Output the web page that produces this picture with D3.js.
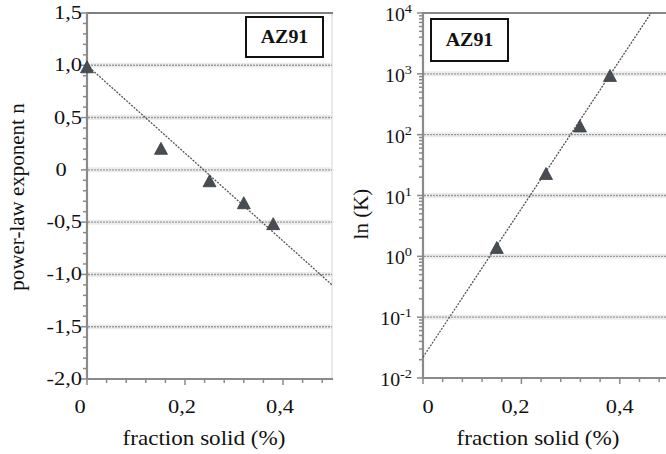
<!DOCTYPE html>
<html><head><meta charset="utf-8">
<script src="https://cdn.jsdelivr.net/npm/d3@7"></script>
<style>
body{margin:0;background:#fff;}
svg text{font-family:'Liberation Serif','Tinos','Times New Roman','DejaVu Serif',serif;}
</style></head>
<body>
<script>
// ---- data ----
const leftX = [0.0, 0.151, 0.25, 0.32, 0.38];
const leftN = [0.98, 0.20, -0.11, -0.32, -0.52];
const leftFitX = [0.0, 0.5];
const leftFitN = [1.0, -1.10];
const leftTicksY = [1.5, 1.0, 0.5, 0, -0.5, -1.0, -1.5, -2.0];
const leftTickLabelsY = ["1,5", "1,0", "0,5", "0", "-0,5", "-1,0", "-1,5", "-2,0"];
const xTicks = [0, 0.2, 0.4];
const xTickLabels = ["0", "0,2", "0,4"];

const rightX = [0.15, 0.25, 0.319, 0.38];
const rightK = [1.37, 22.5, 136, 920];
const rightFitX = [0.0, 0.4635];
const rightFitK = [0.022, 10000];
const rightExp = [4, 3, 2, 1, 0, -1, -2];

const titleText = "AZ91";
const xTitle = "fraction solid (%)";
const leftYTitle = "power-law exponent n";
const rightYTitle = "ln (K)";

// ---- layout ----
const W = 666, H = 454;
const svg = d3.select("body").append("svg").attr("width", W).attr("height", H);

const axisCol = "#8a8a8a";
const markCol = "#474d52";
const SX = 1.12; // horizontal stretch of the original raster

function htext(g, x, y, str, size, anchor, sx) {
  return g.append("text").attr("transform", `translate(${x},${y}) scale(${sx || SX},1)`)
    .attr("text-anchor", anchor).attr("font-size", size).attr("fill", "#111").text(str);
}
function gridLine(g, y, x0, x1) {
  g.append("line").attr("x1", x0).attr("x2", x1).attr("y1", y).attr("y2", y)
    .attr("stroke", "#ececec").attr("stroke-width", 5);
  g.append("line").attr("x1", x0).attr("x2", x1).attr("y1", y).attr("y2", y)
    .attr("stroke", "#9a9a9a").attr("stroke-width", 1.4).attr("stroke-dasharray", "2,1");
}
function tri(g, cx, cy) {
  const w = 13, h = 12;
  g.append("path")
    .attr("d", `M${cx},${cy - h * 0.55}L${cx + w / 2},${cy + h * 0.45}L${cx - w / 2},${cy + h * 0.45}Z`)
    .attr("fill", markCol).attr("stroke", "#3a3f43").attr("stroke-width", 0.8);
}
function xAxisTicks(g, x, y0) {
  d3.range(0, 13).forEach(k => {
    const v = k * 0.04;
    g.append("line").attr("x1", x(v)).attr("x2", x(v)).attr("y1", y0).attr("y2", y0 + (k % 5 === 0 ? 5 : 3))
      .attr("stroke", axisCol).attr("stroke-width", 1.5);
  });
}

// ===== LEFT PANEL =====
const L = svg.append("g");
const xL = d3.scaleLinear().domain([0, 0.5]).range([87, 332]);
const yL = d3.scaleLinear().domain([-2, 1.5]).range([379, 13]);

L.append("line").attr("x1", 332).attr("x2", 332).attr("y1", 13).attr("y2", 379).attr("stroke", "#e2e2e2").attr("stroke-width", 1.5);
leftTicksY.filter(v => v < 1.5 && v > -2).forEach(v => gridLine(L, yL(v), 88, 332));
L.append("line").attr("x1", 87).attr("x2", 333).attr("y1", yL(1.5)).attr("y2", yL(1.5)).attr("stroke", "#555").attr("stroke-width", 1.6);
d3.range(0, 36).forEach(k => {
  const v = -2 + k * 0.1;
  const major = k % 5 === 0;
  L.append("line").attr("x1", 87 - (major ? 6 : 4)).attr("x2", 87).attr("y1", yL(v)).attr("y2", yL(v))
    .attr("stroke", axisCol).attr("stroke-width", 1.5);
});
L.append("line").attr("x1", 87).attr("x2", 87).attr("y1", 12).attr("y2", 380).attr("stroke", axisCol).attr("stroke-width", 2.2);
L.append("line").attr("x1", 86).attr("x2", 333).attr("y1", 379).attr("y2", 379).attr("stroke", axisCol).attr("stroke-width", 2.2);
xAxisTicks(L, xL, 380);
leftTicksY.forEach((v, i) => {
  const isZero = leftTickLabelsY[i] === "0";
  htext(L, isZero ? 61 : 82, yL(v) + 6, leftTickLabelsY[i], 19, isZero ? "middle" : "end", 1.18);
});
xTicks.forEach((v, i) => {
  htext(L, xL(v) + (i === 0 ? -7 : -3), 413, xTickLabels[i], 19, "middle", 1.18);
});
L.append("path").datum(leftFitX.map((v, i) => [v, leftFitN[i]]))
  .attr("d", d3.line().x(d => xL(d[0])).y(d => yL(d[1])))
  .attr("stroke", "#555").attr("stroke-width", 1.3).attr("stroke-dasharray", "2,1.3").attr("fill", "none");
leftX.forEach((v, i) => tri(L, xL(v), yL(leftN[i])));
L.append("rect").attr("x", 246).attr("y", 17).attr("width", 77).attr("height", 40)
  .attr("fill", "#fff").attr("stroke", "#111").attr("stroke-width", 2);
htext(L, 284.5, 43, titleText, 19, "middle", 1.05).attr("font-weight", "bold");
L.append("text").attr("transform", "translate(24,197) rotate(-90)").attr("text-anchor", "middle")
  .attr("font-size", 21).attr("fill", "#111").text(leftYTitle);
htext(L, 204, 445, xTitle, 21, "middle", 1.1);

// ===== RIGHT PANEL =====
const R = svg.append("g");
const xR = d3.scaleLinear().domain([0, 0.5]).range([423, 669]);
const yR = d3.scaleLog().domain([0.01, 10000]).range([378, 13]);

rightExp.filter(e => e < 4 && e > -2).forEach(e => gridLine(R, yR(Math.pow(10, e)), 424, 666));
R.append("line").attr("x1", 423).attr("x2", 666).attr("y1", 13).attr("y2", 13).attr("stroke", "#888").attr("stroke-width", 2);
for (let e = -2; e < 4; e++) {
  for (let m = 1; m <= 9; m++) {
    const v = m * Math.pow(10, e);
    R.append("line").attr("x1", 423 - (m === 1 ? 6 : 4)).attr("x2", 423).attr("y1", yR(v)).attr("y2", yR(v))
      .attr("stroke", axisCol).attr("stroke-width", 1.5);
  }
}
R.append("line").attr("x1", 417).attr("x2", 423).attr("y1", yR(10000)).attr("y2", yR(10000)).attr("stroke", axisCol).attr("stroke-width", 1.5);
R.append("line").attr("x1", 423).attr("x2", 423).attr("y1", 12).attr("y2", 379).attr("stroke", axisCol).attr("stroke-width", 2.2);
R.append("line").attr("x1", 422).attr("x2", 666).attr("y1", 378).attr("y2", 378).attr("stroke", axisCol).attr("stroke-width", 2.2);
xAxisTicks(R, xR, 379);
rightExp.forEach(e => {
  const t = R.append("text").attr("transform", `translate(412,${yR(Math.pow(10, e)) + 8}) scale(1.1,1)`)
    .attr("text-anchor", "end").attr("font-size", 18).attr("fill", "#111");
  t.append("tspan").text("10");
  t.append("tspan").attr("dy", -8).attr("font-size", 13).text(String(e));
});
xTicks.forEach((v, i) => {
  htext(R, xR(v) + (i === 0 ? 5 : i === 1 ? -6 : 0), 413, xTickLabels[i], 19, "middle", 1.18);
});
R.append("path").datum(rightFitX.map((v, i) => [v, rightFitK[i]]))
  .attr("d", d3.line().x(d => xR(d[0])).y(d => yR(d[1])))
  .attr("stroke", "#555").attr("stroke-width", 1.3).attr("stroke-dasharray", "2,1.3").attr("fill", "none");
rightX.forEach((v, i) => tri(R, xR(v), yR(rightK[i])));
R.append("rect").attr("x", 431).attr("y", 19).attr("width", 77).attr("height", 42)
  .attr("fill", "#fff").attr("stroke", "#111").attr("stroke-width", 2);
htext(R, 469.5, 46, titleText, 19, "middle", 1.05).attr("font-weight", "bold");
R.append("text").attr("transform", "translate(368,214) rotate(-90)").attr("text-anchor", "middle")
  .attr("font-size", 21).attr("fill", "#111").text(rightYTitle);
htext(R, 538, 445, xTitle, 21, "middle", 1.1);
</script>
</body></html>
